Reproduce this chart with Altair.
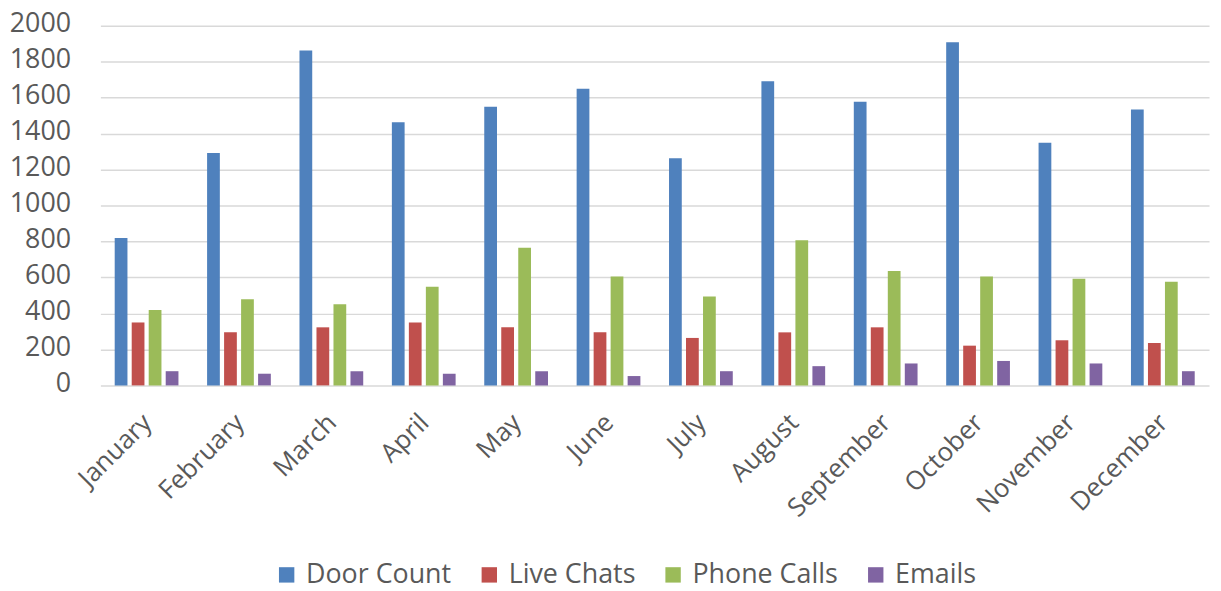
import altair as alt
import pandas as pd

months = ["January", "February", "March", "April", "May", "June", "July",
          "August", "September", "October", "November", "December"]
series = ["Door Count", "Live Chats", "Phone Calls", "Emails"]
door_count = [820, 1292, 1863, 1463, 1550, 1650, 1264, 1692, 1578, 1908, 1349, 1535]
live_chats = [350, 295, 323, 350, 323, 295, 264, 295, 323, 221, 251, 236]
phone_calls = [420, 479, 452, 549, 765, 606, 494, 807, 636, 606, 593, 577]
emails = [79, 65, 79, 65, 79, 52, 79, 107, 122, 136, 122, 79]
colors = ["#4F81BD", "#C0504D", "#9BBB59", "#8064A2"]
y_ticks = list(range(0, 2001, 200))

rows = []
for name, vals in zip(series, [door_count, live_chats, phone_calls, emails]):
    for m, v in zip(months, vals):
        rows.append({"month": m, "series": name, "value": v})
df = pd.DataFrame(rows)

FONT = "Open Sans"
TXT = "#595959"

chart = alt.Chart(df).mark_bar().encode(
    x=alt.X("month:N", sort=months,
            scale=alt.Scale(paddingInner=0.31, paddingOuter=0.155),
            axis=alt.Axis(title=None, labelAngle=-45, labelAlign="right",
                          labelBaseline="middle", labelOffset=1, labelPadding=33,
                          ticks=False, domain=False, labelFontSize=26,
                          labelColor=TXT, labelFont=FONT)),
    xOffset=alt.XOffset("series:N", sort=series,
                        scale=alt.Scale(paddingInner=0.25, paddingOuter=0)),
    y=alt.Y("value:Q", scale=alt.Scale(domain=[0, 2000], nice=False),
            axis=alt.Axis(title=None, values=y_ticks, format="d", grid=True,
                          gridColor="#d9d9d9", gridWidth=1.5, domain=False, ticks=False,
                          labelPadding=30, labelFontSize=27, labelColor=TXT,
                          labelFont=FONT, labelOffset=-2)),
    color=alt.Color("series:N", sort=series,
                    scale=alt.Scale(domain=series, range=colors),
                    legend=alt.Legend(title=None, orient="none", legendX=174, legendY=539,
                                      direction="horizontal", symbolType="square",
                                      symbolSize=240, symbolStrokeWidth=0,
                                      labelFontSize=27, labelFont=FONT, labelColor=TXT,
                                      labelLimit=300, columnPadding=24, labelOffset=6)),
).properties(
    width=1116, height=362,
    padding={"left": 93, "top": 16, "right": 4, "bottom": 197},
    autosize=alt.AutoSizeParams(type="none"),
).configure_view(stroke=None)

chart.save("out.html", embed_options={"renderer": "svg", "actions": False})
